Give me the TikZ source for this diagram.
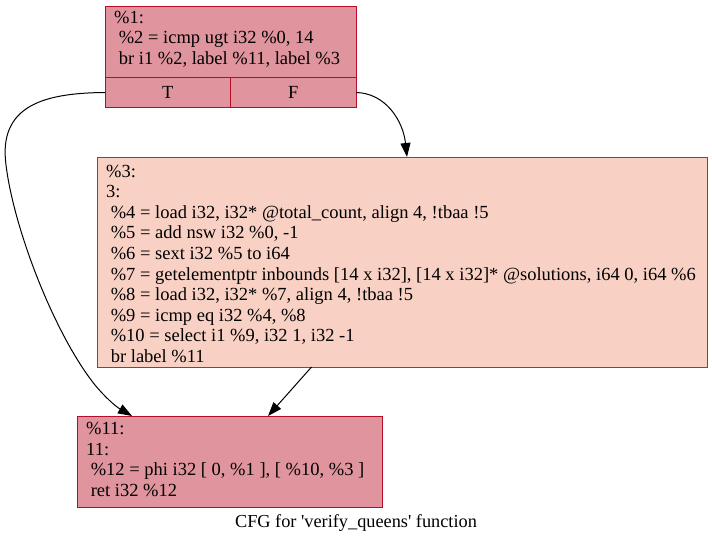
\documentclass[tikz,border=0pt]{standalone}
\usepackage{fontspec}
\setmainfont{Liberation Serif}[Ligatures=TeXOff]
\usetikzlibrary{arrows.meta}
\definecolor{redfill}{HTML}{E0949E}
\definecolor{redline}{HTML}{B70D28}
\definecolor{peachfill}{HTML}{F9D1C4}
\definecolor{blueline}{HTML}{3D50C3}
\tikzset{
  redbox/.style={fill=redfill, draw=redline, line width=0.9bp, inner sep=0},
  peachbox/.style={fill=peachfill, draw=blueline, line width=0.9bp, inner sep=0},
  bigfont/.style={font=\fontsize{18.5bp}{20.5bp}\selectfont},
  midfont/.style={font=\fontsize{18.5bp}{20.6bp}\selectfont},
  codetext/.style={anchor=north west, inner sep=0, align=left},
  edge/.style={draw=black, line width=1bp, -{Triangle[length=14bp,width=10bp]}},
}
\begin{document}
\begin{tikzpicture}[x=1bp,y=-1bp]
\useasboundingbox (0,0) rectangle (712,544);
% top node
\node[redbox, minimum width=251bp, minimum height=101bp] (n1) at (230.5,56.5) {};
\draw[redline, line width=0.9bp] (n1.west |- 0,77) -- (n1.east |- 0,77);
\draw[redline, line width=0.9bp] (230.5,77) -- (n1.south -| 230.5,0);
\node[codetext, bigfont] (t1) at (114,11) {\%1:\\\ \%2 = icmp ugt i32 \%0, 14\\\ br i1 \%2, label \%11, label \%3};
\node[bigfont, inner sep=0] (pT) at (167.75,92) {T};
\node[bigfont, inner sep=0] (pF) at (293.25,92) {F};
\coordinate (Tport) at (105,92.5);
\coordinate (Fport) at (356,92.5);
% middle node
\node[peachbox, minimum width=610bp, minimum height=210bp] (n3) at (402,262) {};
\node[codetext, midfont] (t3) at (106,164.5) {\%3:\\3:\\\ \%4 = load i32, i32* @total\_count, align 4, !tbaa !5\\\ \%5 = add nsw i32 \%0, -1\\\ \%6 = sext i32 \%5 to i64\\\ \%7 = getelementptr inbounds [14 x i32], [14 x i32]* @solutions, i64 0, i64 \%6\\\ \%8 = load i32, i32* \%7, align 4, !tbaa !5\\\ \%9 = icmp eq i32 \%4, \%8\\\ \%10 = select i1 \%9, i32 1, i32 -1\\\ br label \%11};
% bottom node
\node[redbox, minimum width=305bp, minimum height=91bp] (n11) at (229.5,461.5) {};
\node[codetext, bigfont] (t11) at (86,422) {\%11:\\11:\\\ \%12 = phi i32 [ 0, \%1 ], [ \%10, \%3 ]\\\ ret i32 \%12};
% caption
\node[font=\fontsize{18.3bp}{20.6bp}\selectfont, inner sep=0, anchor=base] (cap) at (356,527) {CFG for 'verify\_queens' function};
% edges
\coordinate (e1end) at (132,416);
\draw[edge] (Tport) .. controls (45,93) and (-2,105) .. (6,165) .. controls (14,230) and (55,335) .. (95,385) .. controls (105,397) and (115,406) .. (e1end);
\coordinate (e2end) at (407,157);
\draw[edge] (Fport) .. controls (385,93) and (403,120) .. (e2end);
\coordinate (e3start) at (311.5,367);
\coordinate (e3end) at (268,416);
\draw[edge] (e3start) -- (e3end);
\end{tikzpicture}
\end{document}
